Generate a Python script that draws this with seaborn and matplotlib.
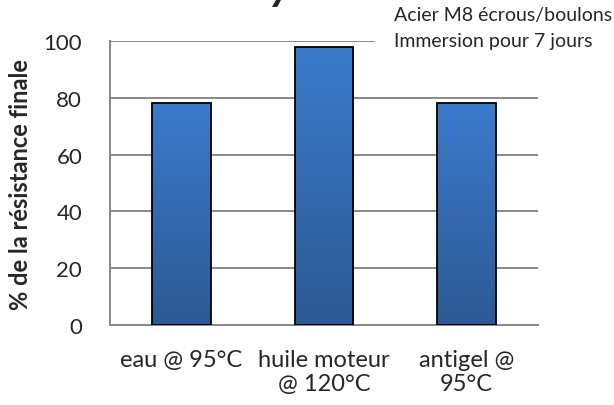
import matplotlib
matplotlib.use("Agg")
import matplotlib.pyplot as plt
from matplotlib.patches import Rectangle
import seaborn as sns
import numpy as np
import pandas as pd

categories = ["eau @ 95°C", "huile moteur\n@ 120°C", "antigel @\n95°C"]
values = [78, 98, 78]
yticks = [0, 20, 40, 60, 80, 100]
ylabel = "% de la résistance finale"
note_lines = ["Acier M8 écrous/boulons", "Immersion pour 7 jours"]

sns.set_theme(style="white")
plt.rcParams["font.family"] = ["Lato", "DejaVu Sans"]

W, H = 614, 406
fig = plt.figure(figsize=(W / 100, H / 100), dpi=100)
ax = fig.add_axes([110 / W, 1 - 326 / H, 428 / W, 284 / H])

df = pd.DataFrame({"cat": categories, "val": values})
sns.barplot(data=df, x="cat", y="val", ax=ax, color="#3470b8", width=0.41,
            edgecolor="black", linewidth=1.3, saturation=1, zorder=3)

# gradient fill clipped to each bar
grad = np.linspace(0, 1, 256).reshape(-1, 1)
top = np.array([0x3b, 0x7b, 0xcc]) / 255
bot = np.array([0x2c, 0x59, 0x94]) / 255
img = (top[None, None, :] * (1 - grad[:, :, None]) + bot[None, None, :] * grad[:, :, None])
for p in ax.patches:
    x0, y0 = p.get_x(), p.get_y()
    w, h = p.get_width(), p.get_height()
    im = ax.imshow(img, extent=[x0, x0 + w, y0, y0 + h], aspect="auto", zorder=3.5,
                   origin="upper")
    im.set_clip_path(p)
    p.set_facecolor("none")
    p.set_zorder(4)

ax.set_xlim(-0.5, 2.5)
ax.set_ylim(0, 100)
ax.set_yticks(yticks)
ax.set_yticklabels([str(t) for t in yticks], fontsize=16)
ax.tick_params(axis="y", length=0, pad=20)
ax.tick_params(axis="x", length=0, pad=17, labelsize=17)
for lbl in ax.get_xticklabels():
    lbl.set_linespacing(1.2)
ax.set_xlabel("")
ax.set_ylabel(ylabel, fontsize=17, fontweight="bold", labelpad=8)
ax.yaxis.grid(True, color="#888888", linewidth=1.4, zorder=0)
ax.set_axisbelow(True)
for s in ["top", "right"]:
    ax.spines[s].set_visible(False)
for s in ["left", "bottom"]:
    ax.spines[s].set_color("#888888")
    ax.spines[s].set_linewidth(1.4)

# white text box of the note (covers the end of the top gridline)
fig.add_artist(Rectangle((375 / W, 1 - 58 / H), (W - 375) / W, 58 / H,
                         transform=fig.transFigure, facecolor="white",
                         edgecolor="none", zorder=2))
fig.text(394 / W, 1 - 21 / H, note_lines[0], fontsize=14, ha="left", va="baseline", zorder=3)
fig.text(394 / W, 1 - 47 / H, note_lines[1], fontsize=14, ha="left", va="baseline", zorder=3)
# cut-off title fragment at the very top
fig.text(270 / W, 1.0, "y", fontsize=32, fontweight="bold", fontstyle="italic",
         ha="left", va="baseline")

fig.savefig("out.png", dpi=100)
